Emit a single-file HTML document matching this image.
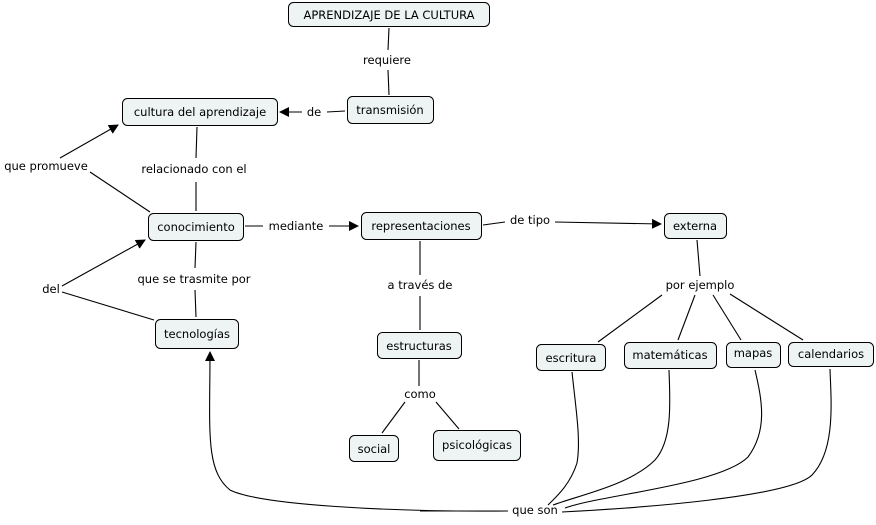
<!DOCTYPE html>
<html><head><meta charset="utf-8"><style>
body{margin:0;background:#fff}
text{font-family:"DejaVu Sans","Liberation Sans",sans-serif;font-size:11.5px;fill:#000}
.n{fill:#eef3f4;stroke:#000;stroke-width:1}
.l{stroke:#000;stroke-width:1.1;fill:none}
</style></head><body>
<svg width="876" height="520" viewBox="0 0 876 520" xmlns="http://www.w3.org/2000/svg">
<defs><marker id="a" markerWidth="10" markerHeight="10" refX="9" refY="5" orient="auto" markerUnits="userSpaceOnUse"><path d="M0,0 L10,5 L0,10 z"/></marker></defs>
<g class="l">
<line x1="389" y1="28" x2="388" y2="50"/><line x1="388" y1="70" x2="389" y2="95"/>
<line x1="345" y1="111" x2="327" y2="112"/><line x1="302" y1="112" x2="280" y2="112" marker-end="url(#a)"/>
<line x1="196" y1="211" x2="196" y2="182"/><line x1="196" y1="158" x2="197" y2="127"/>
<line x1="150" y1="212" x2="90" y2="172"/><line x1="60" y1="158" x2="118" y2="125" marker-end="url(#a)"/>
<line x1="245" y1="226" x2="263" y2="226"/><line x1="329" y1="226" x2="358" y2="226" marker-end="url(#a)"/>
<line x1="483" y1="225" x2="505" y2="222"/><line x1="555" y1="222" x2="661" y2="224" marker-end="url(#a)"/>
<line x1="196" y1="242" x2="195" y2="268"/><line x1="195" y1="290" x2="196" y2="317"/>
<line x1="154" y1="320" x2="62" y2="292"/><line x1="62" y1="286" x2="145" y2="240" marker-end="url(#a)"/>
<line x1="420" y1="241" x2="420" y2="275"/><line x1="420" y1="296" x2="420" y2="330"/>
<line x1="419" y1="360" x2="419" y2="386"/><line x1="405" y1="402" x2="382" y2="433"/><line x1="436" y1="402" x2="459" y2="429"/>
<line x1="697" y1="240" x2="700" y2="276"/>
<line x1="662" y1="295" x2="598" y2="342"/><line x1="695" y1="295" x2="678" y2="340"/>
<line x1="713" y1="295" x2="741" y2="340"/><line x1="730" y1="294" x2="803" y2="340"/>
<path d="M572,372 C576,410 581,440 577,463 C570,485 556,497 548,505"/>
<path d="M669,370 C670,400 673,440 655,460 C630,485 580,495 553,505"/>
<path d="M755,370 C762,400 768,430 748,457 C720,485 600,495 565,508"/>
<path d="M830,369 C831,400 836,450 812,475 C790,497 640,508 562,512"/>
<line x1="508" y1="511" x2="420" y2="511"/>
<path d="M508,511 C390,512 260,505 230,490 C205,470 210,430 210,352" marker-end="url(#a)"/>
</g>
<g>
<rect class="n" x="288.5" y="2.5" width="201" height="24" rx="5"/><text x="389" y="19" text-anchor="middle">APRENDIZAJE DE LA CULTURA</text>
<rect class="n" x="122.5" y="98.5" width="155" height="27" rx="5"/><text x="200" y="116" text-anchor="middle">cultura del aprendizaje</text>
<rect class="n" x="347.5" y="96.5" width="86" height="27" rx="5"/><text x="390" y="114" text-anchor="middle">transmisión</text>
<rect class="n" x="148.5" y="213.5" width="95" height="27" rx="5"/><text x="196" y="231" text-anchor="middle">conocimiento</text>
<rect class="n" x="361.5" y="212.5" width="120" height="27" rx="5"/><text x="421" y="230" text-anchor="middle">representaciones</text>
<rect class="n" x="664.5" y="213.5" width="62" height="25" rx="5"/><text x="695" y="230" text-anchor="middle">externa</text>
<rect class="n" x="155.5" y="319.5" width="83" height="29" rx="5"/><text x="197" y="338" text-anchor="middle">tecnologías</text>
<rect class="n" x="377.5" y="332.5" width="84" height="26" rx="5"/><text x="419" y="350" text-anchor="middle">estructuras</text>
<rect class="n" x="349.5" y="435.5" width="49" height="26" rx="5"/><text x="374" y="453" text-anchor="middle">social</text>
<rect class="n" x="433.5" y="430.5" width="87" height="30" rx="5"/><text x="477" y="449" text-anchor="middle">psicológicas</text>
<rect class="n" x="536.5" y="344.5" width="69" height="26" rx="5"/><text x="571" y="362" text-anchor="middle">escritura</text>
<rect class="n" x="624.5" y="342.5" width="92" height="26" rx="5"/><text x="670" y="359" text-anchor="middle">matemáticas</text>
<rect class="n" x="726.5" y="342.5" width="54" height="25" rx="5"/><text x="753" y="357" text-anchor="middle">mapas</text>
<rect class="n" x="788.5" y="342.5" width="85" height="24" rx="5"/><text x="831" y="358" text-anchor="middle">calendarios</text>
</g>
<g text-anchor="middle">
<text x="387" y="64">requiere</text>
<text x="314" y="116">de</text>
<text x="46" y="170">que promueve</text>
<text x="194" y="173">relacionado con el</text>
<text x="296" y="230">mediante</text>
<text x="530" y="224">de tipo</text>
<text x="51" y="293">del</text>
<text x="194" y="283">que se trasmite por</text>
<text x="420" y="289">a través de</text>
<text x="700" y="289">por ejemplo</text>
<text x="420" y="398">como</text>
<text x="535" y="514">que son</text>
</g>
</svg>
</body></html>
